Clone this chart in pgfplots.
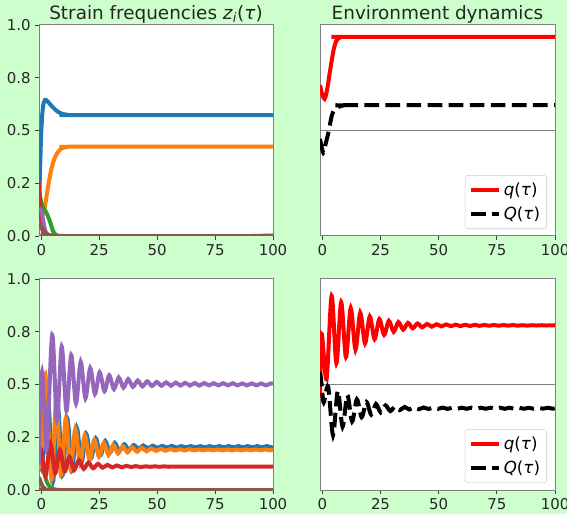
\documentclass[border=0pt]{standalone}
\usepackage{fontspec}
\setmainfont{DejaVu Sans}
\usepackage{pgfplots}
\pgfplotsset{compat=1.18}

\definecolor{bg}{HTML}{CCFFCC}
\definecolor{tblue}{HTML}{1F77B4}
\definecolor{torange}{HTML}{FF7F0E}
\definecolor{tgreen}{HTML}{2CA02C}
\definecolor{tred}{HTML}{D62728}
\definecolor{tpurple}{HTML}{9467BD}
\definecolor{tbrown}{HTML}{8C564B}

\pgfplotsset{
  panel/.style={
    scale only axis,
    height=158.25pt,
    xmin=-1, xmax=100,
    xtick={0,25,50,75,100}, xticklabels={0,25,50,75,100},
    tick align=outside, xtick pos=left, ytick pos=left,
    major tick length=2.8pt,
    tick style={black!75, line width=0.6pt},
    axis line style={black!50, line width=0.75pt},
    ticklabel style={font=\fontsize{11.2}{13}\selectfont, text=black!85},
    axis background/.style={fill=white},
    every axis title shift=0pt,
    title style={font=\fontsize{13.8}{16}\selectfont, text=black!85, at={(0.5,1)}, anchor=base, yshift=4.3pt},
  },
  strains/.style={panel, width=175.5pt, ymin=0, ymax=1,
    ytick={0,0.25,0.5,0.75,1}, yticklabels={0.0,0.2,0.5,0.8,1.0}},
  envir/.style={panel, width=176.25pt, ymin=-1, ymax=1, ytick=\empty,
    legend style={at={(0.966,0.033)}, anchor=south east, draw=black!20, rounded corners=2pt,
      fill=white, font=\fontsize{12.5}{14}\selectfont, row sep=3pt, inner xsep=3pt, inner ysep=3.5pt},
    legend cell align=left,
    legend image code/.code={\draw[##1] (0pt,0pt) -- (21pt,0pt);}},
  cv/.style={line width=3pt, smooth},
  dsh/.style={line width=3pt, smooth, black, dash pattern=on 11pt off 4.8pt},
}

\begin{document}
\begin{tikzpicture}
\useasboundingbox (0,0) rectangle (425.25pt,385.5pt);
\fill[bg] (0,0) rectangle (425.25pt,385.5pt);

% top left: strain frequencies
\begin{axis}[strains, at={(29.25pt,208.5pt)}, anchor=south west,
  title={Strain frequencies \textit{z}\textsubscript{\textit{i}}(\textit{τ})}]
\addplot[cv, tblue] coordinates {(-1,0.14) (-0.5,0.33) (0,0.5) (0.7,0.61) (1.6,0.645) (2.5,0.64) (3,0.635) (4,0.622) (5,0.61) (6,0.599) (7,0.59) (8,0.584) (9,0.579) (11,0.575) (14,0.573) (100,0.573)};
\addplot[cv, torange] coordinates {(-1,0.14) (0,0.1) (1,0.11) (2,0.17) (3,0.24) (4,0.3) (5,0.345) (6,0.375) (7,0.395) (8,0.408) (9,0.416) (11,0.422) (14,0.423) (100,0.423)};
\addplot[cv, tgreen] coordinates {(-1,0.21) (0,0.16) (1,0.13) (2,0.115) (3,0.09) (4,0.06) (5,0.025) (6,0.008) (7,0.002) (9,0) (100,0)};
\addplot[cv, tred] coordinates {(-1,0.26) (-0.5,0.15) (0,0.07) (0.5,0.03) (1,0.01) (2,0.002) (3,0) (100,0)};
\addplot[cv, tpurple] coordinates {(-1,0.13) (0,0.12) (1,0.06) (2,0.015) (3,0.003) (4,0) (100,0)};
\addplot[cv, tbrown] coordinates {(-1,0.05) (0,0.04) (1,0.025) (2,0.013) (3,0.006) (5,0.001) (6,0) (100,0)};
\end{axis}

% top right: environment dynamics
\begin{axis}[envir, at={(240pt,208.5pt)}, anchor=south west, title={Environment dynamics}]
\addplot[black!50, line width=0.75pt, forget plot] coordinates {(-1,0) (100,0)};
\addplot[cv, red] coordinates {(-1,0.43) (0,0.34) (1,0.3) (2,0.38) (3,0.52) (4,0.66) (5,0.78) (6,0.85) (7,0.875) (8,0.885) (10,0.888) (100,0.888)};
\addlegendentry{\textit{q}(\textit{τ})}
\addplot[dsh] coordinates {(-1,-0.08) (0.4,-0.21) (1.5,-0.12) (2.6,-0.02) (4,0.135) (5,0.19) (6.2,0.215) (7.5,0.23) (9,0.237) (12,0.24) (100,0.24)};
\addlegendentry{\textit{Q}(\textit{τ})}
\end{axis}

% bottom left: oscillating strain frequencies
\begin{axis}[strains, at={(29.25pt,18pt)}, anchor=south west]
\addplot[cv, tblue] coordinates {(-1,0.15) (0,0.1) (1,0.2) (3.0,0.42) (5.05,0.04) (7.1,0.40) (9.15,0.07) (11.2,0.34) (13.25,0.10) (15.3,0.295) (17.35,0.13) (19.4,0.265) (21.45,0.15) (23.5,0.245) (25.55,0.165) (27.6,0.232) (29.65,0.177) (31.7,0.223) (33.75,0.185) (35.8,0.217) (37.85,0.191) (39.9,0.213) (41.95,0.195) (44.0,0.211) (46.05,0.198) (48.1,0.21) (50.15,0.2) (52.2,0.209) (54.25,0.201) (56.3,0.209) (58.35,0.201) (60.4,0.208) (62.45,0.202) (64.5,0.208) (66.55,0.202) (68.6,0.208) (70.65,0.202) (72.7,0.208) (74.75,0.202) (76.8,0.208) (78.85,0.202) (80.9,0.208) (82.95,0.202) (85.0,0.208) (87.05,0.202) (89.1,0.208) (91.15,0.202) (93.2,0.208) (95.25,0.202) (97.3,0.208) (99.35,0.202) (100,0.204)};
\addplot[cv, torange] coordinates {(-1,0.12) (0,0.15) (1.7,0.55) (4.4,0.05) (6.45,0.43) (8.5,0.07) (10.55,0.34) (12.6,0.10) (14.65,0.29) (16.7,0.125) (18.75,0.26) (20.8,0.143) (22.85,0.238) (24.9,0.157) (26.95,0.224) (29.0,0.166) (31.05,0.214) (33.1,0.173) (35.15,0.207) (37.2,0.178) (39.25,0.202) (41.3,0.181) (43.35,0.199) (45.4,0.183) (47.45,0.197) (49.5,0.185) (51.55,0.195) (53.6,0.186) (55.65,0.194) (57.7,0.187) (59.75,0.193) (61.8,0.187) (63.85,0.193) (65.9,0.188) (67.95,0.192) (70.0,0.188) (72.05,0.192) (74.1,0.188) (76.15,0.192) (78.2,0.188) (80.25,0.192) (82.3,0.188) (84.35,0.192) (86.4,0.188) (88.45,0.192) (90.5,0.188) (92.55,0.192) (94.6,0.188) (96.65,0.192) (98.7,0.188) (100,0.19)};
\addplot[cv, tgreen] coordinates {(-1,0.19) (0,0.17) (1,0.1) (2,0.05) (3,0.025) (4,0.012) (5,0.005) (7,0.001) (9,0) (100,0)};
\addplot[cv, tred] coordinates {(-1,0.15) (0,0.19) (1.8,0.065) (3.9,0.22) (6.0,0.08) (8.0,0.19) (10.1,0.088) (12.1,0.158) (14.2,0.095) (16.2,0.142) (18.3,0.1) (20.3,0.13) (22.4,0.103) (24.4,0.124) (26.5,0.106) (28.5,0.119) (30.6,0.107) (32.6,0.116) (34.7,0.108) (36.7,0.114) (38.8,0.109) (40.8,0.113) (42.9,0.109) (44.9,0.112) (47,0.11) (49,0.112) (51.1,0.11) (53.1,0.112) (55.2,0.11) (58,0.111) (100,0.111)};
\addplot[cv, tpurple] coordinates {(-1,0.12) (-0.4,0.45) (0.3,0.56) (1.2,0.42) (2.4,0.2) (4.7,0.735) (6.75,0.33) (8.8,0.68) (10.85,0.375) (12.9,0.64) (14.95,0.41) (17.0,0.607) (19.05,0.435) (21.1,0.578) (23.15,0.455) (25.2,0.558) (27.25,0.468) (29.3,0.544) (31.35,0.478) (33.4,0.533) (35.45,0.485) (37.5,0.525) (39.55,0.489) (41.6,0.519) (43.65,0.491) (45.7,0.515) (47.75,0.493) (49.8,0.512) (51.85,0.494) (53.9,0.510) (55.95,0.494) (58.0,0.509) (60.05,0.495) (62.1,0.508) (64.15,0.495) (66.2,0.507) (68.25,0.495) (70.3,0.507) (72.35,0.496) (74.4,0.506) (76.45,0.496) (78.5,0.506) (80.55,0.496) (82.6,0.506) (84.65,0.496) (86.7,0.505) (88.75,0.496) (90.8,0.505) (92.85,0.496) (94.9,0.505) (96.95,0.496) (99.0,0.505) (100,0.503)};
\addplot[cv, tbrown] coordinates {(-1,0.06) (0,0.03) (1,0.01) (2,0.003) (3,0) (100,0)};
\end{axis}

% bottom right: oscillating environment
\begin{axis}[envir, at={(240pt,18pt)}, anchor=south west]
\addplot[black!50, line width=0.75pt, forget plot] coordinates {(-1,0) (100,0)};
\addplot[cv, red] coordinates {(-1,-0.12) (-0.3,0.48) (1.8,0.05) (4.0,0.84) (6.05,0.2) (8.1,0.78) (10.15,0.26) (12.2,0.725) (14.25,0.33) (16.3,0.68) (18.35,0.39) (20.4,0.645) (22.45,0.43) (24.5,0.62) (26.55,0.47) (28.6,0.603) (30.65,0.5) (32.7,0.592) (34.75,0.52) (36.8,0.584) (38.85,0.533) (40.9,0.578) (42.95,0.542) (45.0,0.574) (47.05,0.548) (49.1,0.571) (51.15,0.551) (53.2,0.569) (55.25,0.553) (57.3,0.567) (59.35,0.554) (61.4,0.566) (63.45,0.555) (65.5,0.565) (67.55,0.556) (69.6,0.564) (71.65,0.557) (73.7,0.564) (75.75,0.557) (77.8,0.563) (79.85,0.558) (81.9,0.563) (83.95,0.558) (86.0,0.562) (88.05,0.558) (90.1,0.562) (92.15,0.559) (94.2,0.562) (96.25,0.559) (98.3,0.561) (100,0.56)};
\addlegendentry{\textit{q}(\textit{τ})}
\addplot[dsh] coordinates {(-1,0.12) (-0.3,0.0) (0.6,-0.17) (2.5,-0.02) (4.6,-0.48) (6.65,-0.06) (8.7,-0.40) (10.75,-0.10) (12.8,-0.35) (14.85,-0.14) (16.9,-0.31) (18.95,-0.165) (21.0,-0.285) (23.05,-0.185) (25.1,-0.265) (27.15,-0.198) (29.2,-0.252) (31.25,-0.207) (33.3,-0.243) (35.35,-0.213) (37.4,-0.237) (39.45,-0.216) (41.5,-0.234) (43.55,-0.218) (45.6,-0.232) (47.65,-0.219) (49.7,-0.231) (51.75,-0.219) (53.8,-0.231) (55.85,-0.22) (57.9,-0.23) (59.95,-0.22) (62.0,-0.23) (64.05,-0.22) (66.1,-0.23) (68.15,-0.22) (70.2,-0.23) (72.25,-0.22) (74.3,-0.23) (76.35,-0.22) (78.4,-0.23) (80.45,-0.22) (82.5,-0.23) (84.55,-0.22) (86.6,-0.23) (88.65,-0.221) (90.7,-0.229) (92.75,-0.221) (94.8,-0.229) (96.85,-0.221) (98.9,-0.229) (100,-0.225)};
\addlegendentry{\textit{Q}(\textit{τ})}
\end{axis}
\end{tikzpicture}
\end{document}
